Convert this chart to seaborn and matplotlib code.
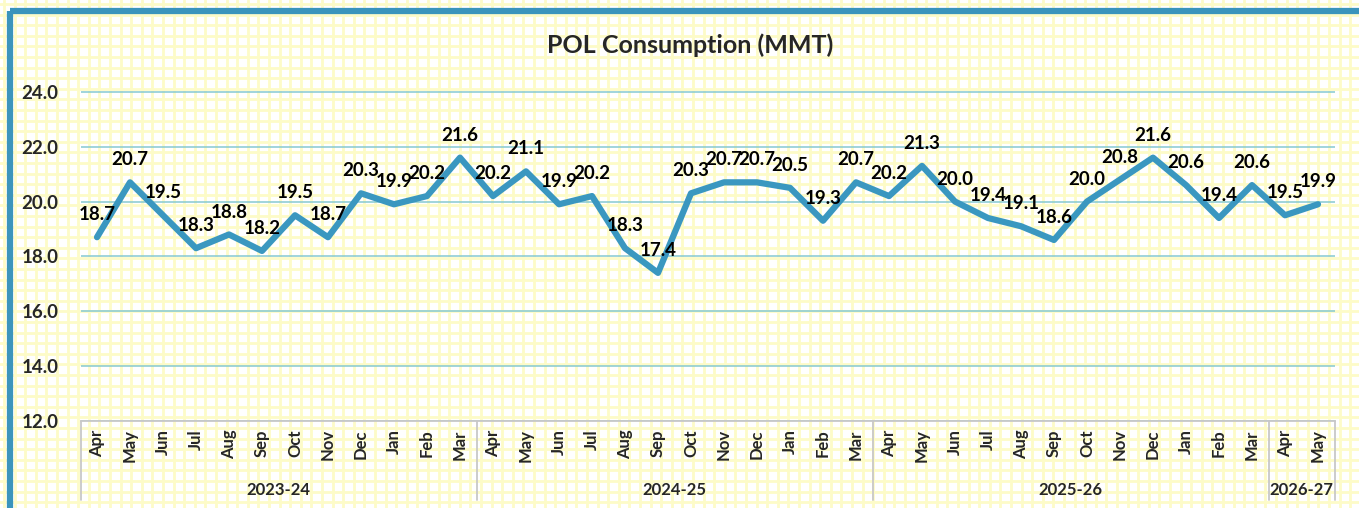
import numpy as np
import pandas as pd
import matplotlib
matplotlib.use("Agg")
import matplotlib.pyplot as plt
import seaborn as sns
from matplotlib.patches import Rectangle

# data
months = ["Apr", "May", "Jun", "Jul", "Aug", "Sep", "Oct", "Nov", "Dec", "Jan", "Feb", "Mar",
          "Apr", "May", "Jun", "Jul", "Aug", "Sep", "Oct", "Nov", "Dec", "Jan", "Feb", "Mar",
          "Apr", "May", "Jun", "Jul", "Aug", "Sep", "Oct", "Nov", "Dec", "Jan", "Feb", "Mar",
          "Apr", "May"]
consumption = [18.7, 20.7, 19.5, 18.3, 18.8, 18.2, 19.5, 18.7, 20.3, 19.9, 20.2, 21.6,
               20.2, 21.1, 19.9, 20.2, 18.3, 17.4, 20.3, 20.7, 20.7, 20.5, 19.3, 20.7,
               20.2, 21.3, 20.0, 19.4, 19.1, 18.6, 20.0, 20.8, 21.6, 20.6, 19.4, 20.6,
               19.5, 19.9]
years = ["2023-24", "2024-25", "2025-26", "2026-27"]
year_sizes = [12, 12, 12, 2]

df = pd.DataFrame({"idx": np.arange(len(months)), "month": months, "value": consumption})

sns.set_style("white")
plt.rcParams['font.family'] = ['Lato', 'DejaVu Sans']

W, H = 1359, 508
fig = plt.figure(figsize=(W / 100, H / 100), dpi=100)
fig.patch.set_facecolor("white")

# graph paper background
bg = fig.add_axes([0, 0, 1, 1], zorder=-5)
bg.set_xlim(0, W)
bg.set_ylim(H, 0)
bg.axis("off")
for x in np.arange(4, W, 10.6):
    bg.axvline(x, color="#fdfbc8", lw=2.0, zorder=1)
for y in np.arange(4, H, 10.6):
    bg.axhline(y, color="#fdfbc8", lw=2.0, zorder=1)
bg.add_patch(Rectangle((10, 11), W + 20, H + 20, fill=False, ec="#3a94bc", lw=4.5, zorder=10))

ax = fig.add_axes([80.5 / W, 87 / H, 1254 / W, 330 / H])
ax.set_facecolor("none")
sns.lineplot(data=df, x="idx", y="value", ax=ax, color="#3a97c0", lw=4.5)

for i, v in zip(df["idx"], df["value"]):
    ax.annotate(f"{v:.1f}", (i, v), xytext=(0, 10), textcoords="offset points",
                ha="center", va="bottom", fontsize=13.5, fontweight="bold", color="black")

ax.set_xlim(-0.5, len(months) - 0.5)
ax.set_ylim(12, 24.03)
ax.set_yticks(np.arange(12, 25, 2))
ax.set_yticklabels([f"{t:.1f}" for t in np.arange(12, 25, 2)], fontsize=13.5, fontweight="bold")
ax.yaxis.grid(True, color="#86c9d2", lw=1.1)
ax.set_axisbelow(True)
ax.tick_params(axis="y", length=0, pad=16)

ax.set_xticks(df["idx"])
ax.set_xticklabels(months, rotation=90, fontsize=12, fontweight="bold")
ax.tick_params(axis="x", length=0, pad=6)
ax.set_xlabel("")
ax.set_ylabel("")
for s in ["top", "right", "left"]:
    ax.spines[s].set_visible(False)
ax.spines["bottom"].set_color("#c8c8c8")
ax.spines["bottom"].set_linewidth(1.3)

# year groups under the month labels
trans = ax.get_xaxis_transform()
edges = np.concatenate([[0], np.cumsum(year_sizes)]) - 0.5
for e in edges:
    ax.plot([e, e], [0, -0.24], transform=trans, color="#c8c8c8", lw=1.3, clip_on=False)
for yr, a, b in zip(years, edges[:-1], edges[1:]):
    ax.text((a + b) / 2, -0.21, yr, transform=trans, ha="center", va="center",
            fontsize=12, fontweight="bold")

fig.text(690 / W, 1 - 45 / H, "POL Consumption (MMT)", ha="center", va="center",
         fontsize=18, fontweight="bold")

fig.savefig("out.png", dpi=100, facecolor=fig.get_facecolor())
